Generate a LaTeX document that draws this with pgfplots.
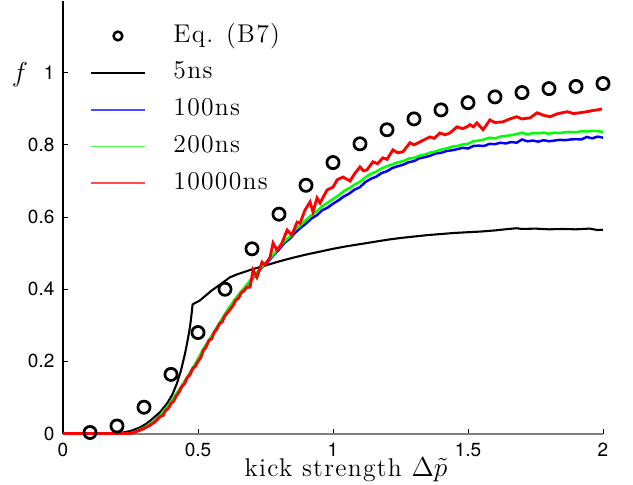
\documentclass[border=0pt]{standalone}
\usepackage{fontspec}
\usepackage{pgfplots}
\pgfplotsset{compat=1.18}
\newfontfamily\helv{TeX Gyre Heros}
\newfontfamily\lmsp[LetterSpace=5]{Latin Modern Roman}
\newcommand\spc{\fontsize{13.5}{16}\selectfont\lmsp}
\begin{document}
\begin{tikzpicture}
\begin{axis}[
  scale only axis,
  width=284.2pt, height=227.9pt,
  xmin=0, xmax=2, ymin=0, ymax=1.2,
  axis x line=bottom, axis y line=left,
  axis line style={-},
  x axis line style={draw=black!50, line width=1pt},
  y axis line style={draw=black, line width=0.6pt},
  xtick={0,0.5,1,1.5,2},
  ytick={0,0.2,0.4,0.6,0.8,1},
  tick align=inside,
  major tick length=2.6pt,
  every tick/.style={black, line width=0.5pt},
  tick label style={font=\helv},
  /pgf/number format/assume math mode=true,
  xticklabel style={yshift=-1.5pt},
  yticklabel style={xshift=-1pt},
  xlabel={\spc kick strength $\Delta\tilde{p}$},
  xlabel style={at={(axis description cs:0.524,-0.056)}, anchor=north, inner sep=0pt},
  ylabel={$f$},
  ylabel style={at={(axis description cs:-0.08,0.828)}, anchor=center, rotate=-90, font=\fontsize{13.5}{16}\selectfont},
  clip=false,
  legend style={at={(axis description cs:0.05,0.748)}, anchor=west, draw=none, fill=none,
     inner xsep=0pt, inner ysep=0pt, font=\spc, column sep=14.7pt, row sep=6.9pt,
     nodes={inner sep=0pt, text height=9.5pt, text depth=3pt}},
  legend cell align=left,
]
\addplot[only marks, mark=o, mark size=3.2pt, line width=1.45pt, black,
  legend image code/.code={\draw[draw=black, line width=1.3pt] (14pt,0pt) circle (2.3pt); \path[draw=none] (0pt,0pt) -- (28pt,0pt);}]
coordinates {
(0.1,0.003)(0.2,0.021)(0.3,0.073)(0.4,0.164)(0.5,0.28)(0.6,0.40)(0.7,0.512)
(0.8,0.608)(0.9,0.688)(1.0,0.751)(1.1,0.803)(1.2,0.842)(1.3,0.872)(1.4,0.897)
(1.5,0.917)(1.6,0.933)(1.7,0.945)(1.8,0.956)(1.9,0.962)(2.0,0.970)
};
\addlegendentry{Eq. (B7)}
\addplot[black, line width=1.1pt,
  legend image code/.code={\draw[draw=black, line width=0.8pt] (0pt,0pt) -- (28pt,0pt);}]
coordinates {
(0,0)(0.2,0)(0.222,0.003)(0.25,0.007)(0.285,0.017)(0.31,0.028)(0.333,0.042)
(0.36,0.06)(0.385,0.083)(0.405,0.108)(0.422,0.139)(0.437,0.175)(0.452,0.222)
(0.462,0.26)(0.47,0.294)(0.476,0.33)(0.48,0.358)(0.507,0.369)(0.55,0.396)
(0.6,0.423)(0.618,0.433)(0.644,0.441)(0.7,0.455)(0.75,0.466)(0.8,0.477)
(0.85,0.487)(0.9,0.496)(0.95,0.504)(1.0,0.512)(1.05,0.519)(1.1,0.525)
(1.15,0.531)(1.2,0.537)(1.25,0.542)(1.3,0.546)(1.35,0.55)(1.4,0.553)
(1.45,0.556)(1.5,0.558)(1.55,0.56)(1.6,0.563)(1.65,0.567)(1.68,0.569)
(1.7,0.567)(1.75,0.568)(1.8,0.566)(1.85,0.567)(1.9,0.566)(1.95,0.568)
(1.98,0.564)(2.0,0.565)
};
\addlegendentry{5ns}
\addplot[blue, line width=1.3pt,
  legend image code/.code={\draw[draw=blue!70, line width=1pt] (0pt,0pt) -- (28pt,0pt);}]
coordinates {
(0,0)(0.24,0)(0.26,0.003)(0.3,0.015)(0.333,0.031)(0.36,0.05)(0.396,0.083)
(0.43,0.12)(0.459,0.154)(0.49,0.192)(0.519,0.232)(0.55,0.269)(0.581,0.307)
(0.61,0.342)(0.644,0.378)(0.68,0.41)(0.7,0.428)(0.72,0.446)(0.74,0.462)
(0.76,0.477)(0.78,0.494)(0.8,0.51)(0.82,0.528)(0.84,0.54)(0.86,0.557)
(0.88,0.57)(0.9,0.582)(0.92,0.596)(0.94,0.605)(0.96,0.619)(0.98,0.626)
(1.0,0.637)(1.02,0.646)(1.04,0.657)(1.06,0.665)(1.08,0.676)(1.1,0.683)
(1.12,0.697)(1.14,0.706)(1.16,0.712)(1.18,0.722)(1.2,0.727)(1.22,0.736)
(1.24,0.741)(1.26,0.745)(1.28,0.752)(1.3,0.755)(1.32,0.763)(1.34,0.766)
(1.36,0.77)(1.38,0.776)(1.4,0.778)(1.42,0.783)(1.44,0.785)(1.46,0.788)
(1.48,0.792)(1.5,0.79)(1.52,0.797)(1.54,0.798)(1.56,0.797)(1.58,0.803)
(1.6,0.802)(1.62,0.806)(1.64,0.804)(1.66,0.808)(1.68,0.806)(1.7,0.815)
(1.72,0.81)(1.74,0.812)(1.76,0.809)(1.78,0.813)(1.8,0.81)(1.82,0.812)
(1.84,0.814)(1.86,0.813)(1.88,0.815)(1.9,0.816)(1.92,0.815)(1.94,0.822)
(1.96,0.818)(1.98,0.823)(2.0,0.82)
};
\addlegendentry{100ns}
\addplot[green, line width=1.3pt,
  legend image code/.code={\draw[draw=green!70, line width=1pt] (0pt,0pt) -- (28pt,0pt);}]
coordinates {
(0,0)(0.24,0)(0.26,0.003)(0.3,0.016)(0.333,0.032)(0.36,0.05)(0.396,0.084)
(0.43,0.121)(0.459,0.155)(0.49,0.193)(0.519,0.233)(0.55,0.27)(0.581,0.308)
(0.61,0.343)(0.644,0.379)(0.68,0.412)(0.7,0.43)(0.72,0.448)(0.74,0.464)
(0.76,0.48)(0.78,0.497)(0.8,0.515)(0.82,0.533)(0.84,0.546)(0.86,0.565)
(0.88,0.578)(0.9,0.592)(0.92,0.605)(0.94,0.616)(0.96,0.63)(0.98,0.64)
(1.0,0.65)(1.02,0.66)(1.04,0.672)(1.06,0.68)(1.08,0.69)(1.1,0.698)
(1.12,0.71)(1.14,0.72)(1.16,0.726)(1.18,0.735)(1.2,0.741)(1.22,0.746)
(1.24,0.752)(1.26,0.755)(1.28,0.762)(1.3,0.764)(1.32,0.77)(1.34,0.773)
(1.36,0.779)(1.38,0.782)(1.4,0.787)(1.42,0.79)(1.44,0.795)(1.46,0.797)
(1.48,0.801)(1.5,0.803)(1.52,0.81)(1.54,0.812)(1.56,0.815)(1.58,0.82)
(1.6,0.818)(1.62,0.823)(1.64,0.825)(1.66,0.827)(1.68,0.83)(1.7,0.834)
(1.72,0.829)(1.74,0.833)(1.76,0.832)(1.78,0.834)(1.8,0.831)(1.82,0.834)
(1.84,0.833)(1.86,0.835)(1.88,0.836)(1.9,0.835)(1.92,0.838)(1.94,0.837)
(1.96,0.839)(1.98,0.838)(2.0,0.836)
};
\addlegendentry{200ns}
\addplot[red, line width=1.5pt,
  legend image code/.code={\draw[draw=red!70, line width=1pt] (0pt,0pt) -- (28pt,0pt);}]
coordinates {
(0,0)(0.24,0)(0.26,0.002)(0.28,0.008)(0.3,0.014)(0.32,0.022)(0.34,0.032)
(0.36,0.047)(0.37,0.05)(0.38,0.064)(0.39,0.07)(0.40,0.083)(0.41,0.09)
(0.42,0.105)(0.43,0.115)(0.44,0.13)(0.45,0.138)(0.46,0.155)(0.47,0.162)
(0.48,0.18)(0.49,0.186)(0.50,0.2)(0.51,0.21)(0.52,0.23)(0.53,0.24)
(0.54,0.258)(0.55,0.262)(0.56,0.28)(0.57,0.29)(0.58,0.305)(0.59,0.31)
(0.60,0.327)(0.61,0.335)(0.62,0.345)(0.63,0.355)(0.64,0.37)(0.65,0.375)
(0.66,0.39)(0.67,0.395)(0.68,0.405)(0.693,0.406)(0.704,0.453)(0.718,0.433)
(0.737,0.475)(0.748,0.467)(0.767,0.489)(0.778,0.528)(0.793,0.508)
(0.811,0.528)(0.83,0.564)(0.848,0.55)(0.867,0.586)(0.878,0.583)
(0.896,0.619)(0.915,0.642)(0.926,0.614)(0.941,0.653)(0.952,0.639)
(0.978,0.675)(1.0,0.683)(1.015,0.703)(1.037,0.711)(1.063,0.700)
(1.08,0.72)(1.1,0.739)(1.113,0.728)(1.126,0.731)(1.148,0.753)(1.165,0.748)
(1.185,0.764)(1.2,0.76)(1.222,0.786)(1.24,0.778)(1.259,0.781)(1.285,0.806)
(1.3,0.8)(1.322,0.808)(1.34,0.815)(1.359,0.822)(1.375,0.818)(1.396,0.833)
(1.415,0.828)(1.433,0.833)(1.459,0.85)(1.48,0.845)(1.496,0.85)(1.507,0.856)
(1.52,0.85)(1.533,0.861)(1.556,0.842)(1.581,0.869)(1.6,0.862)(1.63,0.864)
(1.655,0.872)(1.681,0.878)(1.7,0.872)(1.73,0.875)(1.756,0.889)(1.78,0.882)
(1.804,0.878)(1.83,0.886)(1.867,0.892)(1.89,0.887)(1.915,0.889)(1.94,0.892)
(1.96,0.895)(1.98,0.897)(1.996,0.9)
};
\addlegendentry{10000ns}
\path (rel axis cs:-0.1167,-0.1178) rectangle (rel axis cs:1.0556,1.0);
\end{axis}
\end{tikzpicture}
\end{document}
